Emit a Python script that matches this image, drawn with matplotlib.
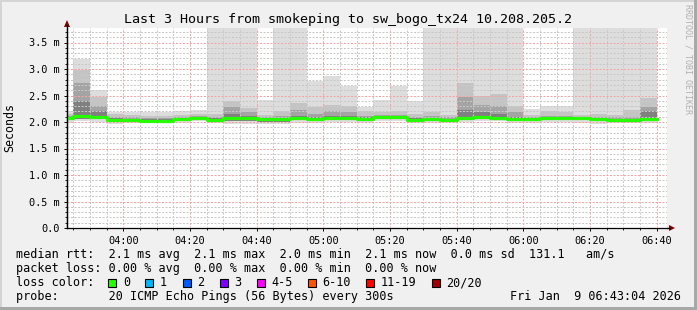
import numpy as np
import matplotlib
matplotlib.use("Agg")
import matplotlib.pyplot as plt
from matplotlib.patches import Rectangle, Polygon
from matplotlib.lines import Line2D
from matplotlib.ticker import MultipleLocator, FuncFormatter

plt.rcParams['font.family'] = ['DejaVu Sans Mono']

# 5-minute smokeping steps, start times as minutes after midnight (03:40 .. 06:35)
bar_start = [220, 225, 230, 235, 240, 245, 250, 255, 260, 265, 270, 275,
             280, 285, 290, 295, 300, 305, 310, 315, 320, 325, 330, 335,
             340, 345, 350, 355, 360, 365, 370, 375, 380, 385, 390, 395]

# rtt in ms; 4.5 stands for "off the top of the chart"
ping_max = [2.20, 3.19, 2.60, 2.19, 2.19, 2.18, 2.18, 2.20, 2.23, 4.5, 4.5, 4.5,
            2.41, 4.5, 4.5, 2.78, 2.86, 2.67, 2.29, 2.42, 2.67, 2.40, 4.5, 4.5,
            4.5, 4.5, 4.5, 4.5, 2.25, 2.30, 2.30, 4.5, 4.5, 4.5, 4.5, 4.5]
ping_hi2 = [2.16, 2.98, 2.48, 2.15, 2.13, 2.12, 2.12, 2.13, 2.15, 2.16, 2.40, 2.27,
            2.14, 2.20, 2.35, 2.28, 2.33, 2.30, 2.20, 2.18, 2.20, 2.16, 2.18, 2.14,
            2.73, 2.50, 2.52, 2.31, 2.14, 2.20, 2.18, 2.14, 2.16, 2.14, 2.22, 2.45]
ping_hi3 = [2.12, 2.74, 2.30, 2.10, 2.09, 2.08, 2.08, 2.09, 2.12, 2.10, 2.28, 2.18,
            2.10, 2.12, 2.22, 2.16, 2.20, 2.18, 2.12, 2.13, 2.14, 2.10, 2.12, 2.09,
            2.48, 2.33, 2.30, 2.18, 2.10, 2.12, 2.12, 2.10, 2.10, 2.09, 2.10, 2.29]
ping_hi4 = [2.10, 2.40, 2.20, 2.07, 2.06, 2.05, 2.05, 2.07, 2.10, 2.07, 2.15, 2.12,
            2.07, 2.08, 2.12, 2.10, 2.12, 2.11, 2.09, 2.10, 2.11, 2.07, 2.08, 2.06,
            2.23, 2.18, 2.16, 2.10, 2.08, 2.09, 2.09, 2.08, 2.07, 2.06, 2.05, 2.20]
median = [2.08, 2.12, 2.09, 2.04, 2.03, 2.02, 2.02, 2.05, 2.07, 2.04, 2.07, 2.07,
          2.05, 2.05, 2.07, 2.06, 2.07, 2.07, 2.05, 2.09, 2.09, 2.04, 2.06, 2.04,
          2.07, 2.09, 2.08, 2.06, 2.06, 2.07, 2.07, 2.07, 2.06, 2.04, 2.03, 2.05]
ping_lo2 = [2.04, 2.06, 2.05, 2.01, 2.00, 2.00, 2.00, 2.02, 2.04, 2.01, 2.02, 2.02,
            2.00, 2.00, 2.03, 2.02, 2.03, 2.03, 2.01, 2.05, 2.05, 2.01, 2.02, 2.01,
            2.03, 2.05, 2.04, 2.02, 2.02, 2.03, 2.03, 2.03, 2.02, 2.01, 2.01, 2.02]
ping_min = [1.98, 2.01, 2.00, 1.97, 1.98, 1.98, 1.98, 1.99, 2.01, 1.99, 1.97, 1.97,
            1.96, 1.96, 1.99, 1.99, 2.00, 2.00, 1.98, 2.02, 2.02, 1.99, 1.99, 1.98,
            2.00, 2.02, 2.01, 1.98, 1.98, 2.00, 2.00, 1.99, 1.97, 1.99, 1.98, 1.99]
loss = [0] * 36

loss_labels = ['0', '1', '2', '3', '4-5', '6-10', '11-19', '20/20']
loss_colors = ['#26ff00', '#00b8ff', '#0059ff', '#7e00ff', '#ff00ff', '#ff5500', '#ff0000', '#a00000']

title = "Last 3 Hours from smokeping to sw_bogo_tx24 10.208.205.2"
line_rtt = "median rtt:  2.1 ms avg  2.1 ms max  2.0 ms min  2.1 ms now  0.0 ms sd  131.1   am/s"
line_loss = "packet loss: 0.00 % avg  0.00 % max  0.00 % min  0.00 % now"
line_probe = "probe:       20 ICMP Echo Pings (56 Bytes) every 300s"
stamp = "Fri Jan  9 06:43:04 2026"

W, H = 697, 310
t_end = 6 * 60 + 43 + 4 / 60.0

fig = plt.figure(figsize=(W / 100, H / 100), dpi=100, facecolor='#f0f0f0')

def fx(px):
    return px / W

def fy(py):
    return 1 - py / H

# 3d-ish frame
fig.patches.append(Rectangle((0, fy(2)), 1, 2 / H, transform=fig.transFigure, color='#d4d4d4', lw=0))
fig.patches.append(Rectangle((0, 0), 2 / W, 1, transform=fig.transFigure, color='#d4d4d4', lw=0))
fig.patches.append(Rectangle((0, 0), 1, 3 / H, transform=fig.transFigure, color='#a8a8a8', lw=0))
fig.patches.append(Rectangle((fx(694), 0), 3 / W, 1, transform=fig.transFigure, color='#a8a8a8', lw=0))

ax = fig.add_axes([fx(67), fy(228), 600 / W, 200 / H])
ax.set_facecolor('white')
ax.set_xlim(t_end - 180, t_end)
ax.set_ylim(0, 200 / 53.0)

x = np.array(bar_start, dtype=float)
bands = [
    (ping_min, ping_max, '#dddddd'),
    (ping_lo2, ping_hi2, '#c4c4c4'),
    (ping_lo2, ping_hi3, '#a4a4a4'),
    (ping_lo2, ping_hi4, '#808080'),
]
for lo, hi, col in bands:
    lo = np.array(lo)
    hi = np.array(hi)
    ax.bar(x, hi - lo, bottom=lo, width=5, align='edge', color=col, linewidth=0, zorder=1)

# median line, coloured by loss
xs = np.append(x, x[-1] + 5)
ys = np.append(median, median[-1])
ax.step(xs, ys, where='post', color=loss_colors[loss[0]], lw=2.3, zorder=4)

# grid
ax.xaxis.set_major_locator(MultipleLocator(20))
ax.xaxis.set_minor_locator(MultipleLocator(5))
ax.yaxis.set_major_locator(MultipleLocator(0.5))
ax.yaxis.set_minor_locator(MultipleLocator(0.1))
ax.set_axisbelow(False)
ax.grid(which='minor', color='#c8c8c8', lw=0.72, linestyle=(0, (2, 1.5)))
ax.grid(which='major', color='#f4a4a4', lw=0.72, linestyle=(0, (2, 1.5)))

ax.xaxis.set_major_formatter(FuncFormatter(lambda v, p: "%02d:%02d" % (int(v) // 60, int(v) % 60)))
ax.yaxis.set_major_formatter(FuncFormatter(lambda v, p: "0.0" if abs(v) < 1e-9 else "%.1f m" % v))

ax.tick_params(axis='both', which='major', labelsize=7.4, length=2.5, width=0.7, color='black')
ax.tick_params(axis='both', which='minor', length=1.5, width=0.6, color='black')
ax.tick_params(axis='x', pad=3)
ax.tick_params(axis='y', pad=3)

for s in ['top', 'right']:
    ax.spines[s].set_visible(False)
for s in ['left', 'bottom']:
    ax.spines[s].set_color('black')
    ax.spines[s].set_linewidth(0.9)

# axis extensions and arrows
fig.add_artist(Line2D([fx(67), fx(67)], [fy(228), fy(25)], transform=fig.transFigure, color='black', lw=0.9))
fig.add_artist(Line2D([fx(667), fx(670)], [fy(228), fy(228)], transform=fig.transFigure, color='black', lw=0.9))
fig.patches.append(Polygon([(fx(64), fy(27)), (fx(70), fy(27)), (fx(67), fy(20))],
                           closed=True, transform=fig.transFigure, color='#7f0000', lw=0))
fig.patches.append(Polygon([(fx(669), fy(225)), (fx(669), fy(231)), (fx(675), fy(228))],
                           closed=True, transform=fig.transFigure, color='#7f0000', lw=0))

# texts
fig.text(0.5, fy(19), title, ha='center', va='center', fontsize=9.6)
fig.text(fx(10), fy(128), 'Seconds', rotation=90, ha='center', va='center', fontsize=8.4)
fig.text(fx(688), fy(59), 'RRDTOOL / TOBI OETIKER', rotation=270, ha='center', va='center',
         fontsize=6, color='#b0b0b0')

fs = 8.5
fig.text(fx(15.5), fy(254.5), line_rtt, ha='left', va='center', fontsize=fs)
fig.text(fx(15.5), fy(268.5), line_loss, ha='left', va='center', fontsize=fs)
fig.text(fx(15.5), fy(282.5), "loss color:", ha='left', va='center', fontsize=fs)
fig.text(fx(15.5), fy(296.5), line_probe, ha='left', va='center', fontsize=fs)
fig.text(fx(681), fy(296.5), stamp, ha='right', va='center', fontsize=fs)

bx = 108.3
for lab, col in zip(loss_labels, loss_colors):
    fig.patches.append(Rectangle((fx(bx), fy(286.5)), 8 / W, 8 / H, transform=fig.transFigure,
                                 facecolor=col, edgecolor='black', lw=0.8))
    fig.text(fx(bx + 14.5), fy(282.5), lab, ha='left', va='center', fontsize=fs)
    bx += 22 + len(lab) * 7.1 + 8

fig.savefig('out.png', dpi=100, facecolor=fig.get_facecolor())
